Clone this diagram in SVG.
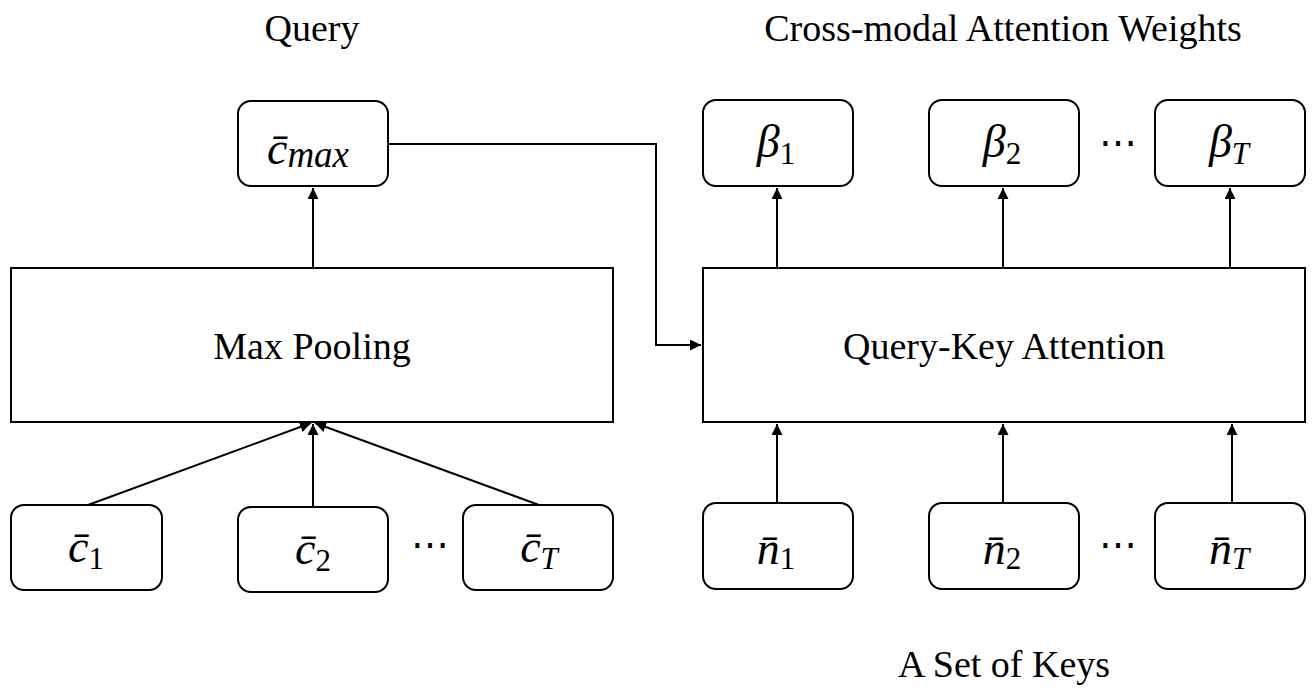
<svg xmlns="http://www.w3.org/2000/svg" width="1312" height="690" viewBox="0 0 1312 690">
<style>
.box{fill:#fff;stroke:#000;stroke-width:2}
.t{font-family:"Liberation Serif","Times New Roman",serif;font-size:38px;fill:#000;text-anchor:middle}
.m{font-family:"Liberation Serif","Times New Roman",serif;font-style:italic;font-size:46px;fill:#000;text-anchor:middle}
.s{font-style:normal;font-size:31px}
.si{font-style:italic;font-size:31px}
.c{fill:none;stroke:#000;stroke-width:2}
</style>
<defs>
<marker id="a" viewBox="0 0 10 10" refX="10" refY="5" markerWidth="5.5" markerHeight="5.5" orient="auto" markerUnits="strokeWidth">
<path d="M0,0L10,5L0,10z" fill="#000"/>
</marker>
</defs>
<text class="t" x="312" y="41">Query</text>
<text class="t" x="1003" y="41">Cross-modal Attention Weights</text>
<text class="t" x="1004" y="677">A Set of Keys</text>
<g id="connectors">
<path class="c" d="M313,268V188" marker-end="url(#a)"/>
<path class="c" d="M388,144H656V345H701" marker-end="url(#a)"/>
<path class="c" d="M88,505L311,423" marker-end="url(#a)"/>
<path class="c" d="M313,507V424" marker-end="url(#a)"/>
<path class="c" d="M539,505L315,423" marker-end="url(#a)"/>
<path class="c" d="M777,268V188" marker-end="url(#a)"/>
<path class="c" d="M1003,268V188" marker-end="url(#a)"/>
<path class="c" d="M1230,268V188" marker-end="url(#a)"/>
<path class="c" d="M777,503V424" marker-end="url(#a)"/>
<path class="c" d="M1003,503V424" marker-end="url(#a)"/>
<path class="c" d="M1232,503V424" marker-end="url(#a)"/>
</g>
<g id="cmax"><rect class="box" x="238" y="101" width="150" height="85" rx="13"/><text class="m" x="308" y="164">c̄<tspan class="si" dy="3" style="font-size:37px">max</tspan></text></g>
<g id="maxpool"><rect class="box" x="11" y="268" width="602" height="154"/><text class="t" x="312" y="359">Max Pooling</text></g>
<g id="c1"><rect class="box" x="11" y="505" width="151" height="85" rx="13"/><text class="m" x="86" y="562">c̄<tspan class="s" dy="7">1</tspan></text></g>
<g id="c2"><rect class="box" x="238" y="507" width="150" height="85" rx="13"/><text class="m" x="313" y="564">c̄<tspan class="s" dy="7">2</tspan></text></g>
<g id="dots1"><text class="t" x="430" y="558">⋯</text></g>
<g id="cT"><rect class="box" x="463" y="505" width="150" height="85" rx="13"/><text class="m" x="539" y="562">c̄<tspan class="si" dy="7">T</tspan></text></g>
<g id="b1"><rect class="box" x="703" y="100" width="150" height="86" rx="13"/><text class="m" x="776" y="157">β<tspan class="s" dy="7">1</tspan></text></g>
<g id="b2"><rect class="box" x="929" y="100" width="150" height="86" rx="13"/><text class="m" x="1002" y="157">β<tspan class="s" dy="7">2</tspan></text></g>
<g id="dots2"><text class="t" x="1118" y="156">⋯</text></g>
<g id="bT"><rect class="box" x="1155" y="100" width="150" height="86" rx="13"/><text class="m" x="1229" y="157">β<tspan class="si" dy="7">T</tspan></text></g>
<g id="qk"><rect class="box" x="703" y="268" width="602" height="154"/><text class="t" x="1004" y="359">Query-Key Attention</text></g>
<g id="n1"><rect class="box" x="703" y="503" width="150" height="86" rx="13"/><text class="m" x="776" y="564">n̄<tspan class="s" dy="5">1</tspan></text></g>
<g id="n2"><rect class="box" x="929" y="503" width="150" height="86" rx="13"/><text class="m" x="1002" y="564">n̄<tspan class="s" dy="5">2</tspan></text></g>
<g id="dots3"><text class="t" x="1118" y="558">⋯</text></g>
<g id="nT"><rect class="box" x="1155" y="503" width="150" height="86" rx="13"/><text class="m" x="1229" y="564">n̄<tspan class="si" dy="5">T</tspan></text></g>
</svg>
